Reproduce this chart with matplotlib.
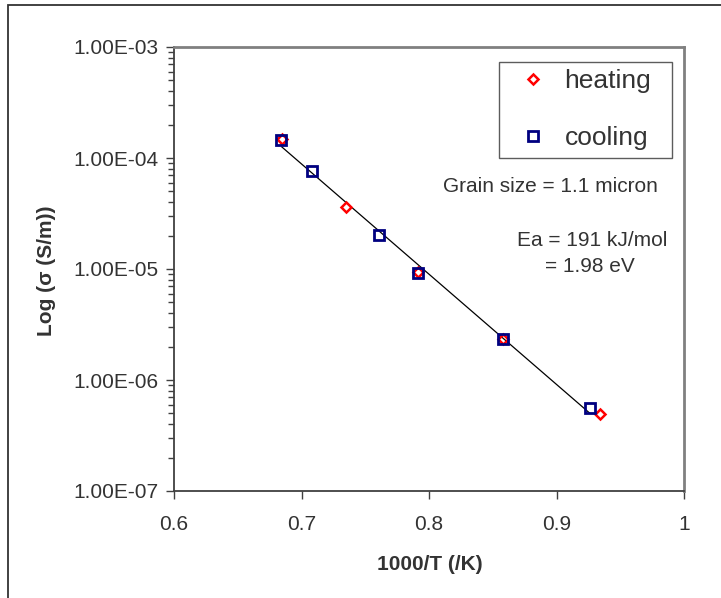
import matplotlib
matplotlib.use("Agg")
import matplotlib.pyplot as plt
from matplotlib.patches import Rectangle
from matplotlib.ticker import FixedLocator, LogLocator, NullFormatter, FuncFormatter

plt.rcParams['font.family'] = ['Liberation Sans', 'DejaVu Sans']

# data
heat_x = [0.685, 0.735, 0.791, 0.858, 0.934]
heat_y = [1.48e-4, 3.64e-5, 9.4e-6, 2.33e-6, 4.9e-7]
cool_x = [0.684, 0.708, 0.761, 0.791, 0.858, 0.926]
cool_y = [1.45e-4, 7.6e-5, 2.02e-5, 9.15e-6, 2.34e-6, 5.6e-7]
# trendline ends
fit_x = [0.6845, 0.9263]
fit_y = [1.26e-4, 5.0e-7]

xticks = [0.6, 0.7, 0.8, 0.9, 1.0]
xticklabels = ["0.6", "0.7", "0.8", "0.9", "1"]

W, H = 721, 598
fig = plt.figure(figsize=(W / 100, H / 100), dpi=100)

# outer frame (cut at right and bottom)
fig.patches.append(Rectangle((7.5 / W, -0.05), 1.2, 1 - 5 / H + 0.05, transform=fig.transFigure,
                             fill=False, edgecolor="#333333", linewidth=1.3))

ax = fig.add_axes([174 / W, 1 - 491 / H, 510 / W, 444 / H])
ax.set_yscale("log")
ax.set_xlim(0.6, 1.0)
ax.set_ylim(1e-7, 1e-3)

ax.plot(fit_x, fit_y, color="black", lw=0.9, zorder=2)
ax.plot(heat_x, heat_y, linestyle="none", marker="D", ms=4.6, mew=1.8,
        mfc="none", mec="#ff0000", label="heating", zorder=3)
ax.plot(cool_x, cool_y, linestyle="none", marker="s", ms=6.6, mew=2.0,
        mfc="none", mec="#000080", label="cooling", zorder=4)

for s in ["left", "bottom"]:
    ax.spines[s].set_color("#404040")
    ax.spines[s].set_linewidth(1.3)
for s in ["top", "right"]:
    ax.spines[s].set_color("#808080")
    ax.spines[s].set_linewidth(2.0)

ax.xaxis.set_major_locator(FixedLocator(xticks))
ax.set_xticklabels(xticklabels)
ax.yaxis.set_major_locator(LogLocator(base=10, numticks=10))
ax.yaxis.set_minor_locator(LogLocator(base=10, subs=range(2, 10), numticks=10))
ax.yaxis.set_minor_formatter(NullFormatter())
ax.yaxis.set_major_formatter(FuncFormatter(lambda v, p: "%.2E" % v))

ax.tick_params(axis="x", direction="out", length=6, width=1, color="#404040",
               labelsize=15, labelcolor="#333333", pad=11)
ax.tick_params(axis="y", which="major", direction="out", length=6, width=1, color="#404040",
               labelsize=15, labelcolor="#333333", pad=5)
ax.tick_params(axis="y", which="minor", direction="out", length=4, width=1, color="#404040")

ax.set_xlabel("1000/T (/K)", fontsize=15, fontweight="bold", color="#333333")
ax.set_ylabel("Log (σ (S/m))", fontsize=15, fontweight="bold", color="#333333")
ax.xaxis.set_label_coords((430 - 174) / 510, (491 - 555) / 444)
ax.yaxis.set_label_coords((56 - 174) / 510, (491 - 271) / 444)

leg = ax.legend(loc="upper left", bbox_to_anchor=(499 / W, 1 - 157 / H, 173 / W, 95 / H),
                mode="expand", bbox_transform=fig.transFigure, fontsize=19, frameon=True,
                fancybox=False, edgecolor="#333333", labelspacing=1.25,
                handlelength=2.0, handletextpad=0.2, borderpad=0.28,
                borderaxespad=0, labelcolor="#333333")
leg.get_frame().set_linewidth(1.0)

fig.text(550 / W, 1 - 187 / H, "Grain size = 1.1 micron", ha="center", va="center",
         fontsize=15, color="#333333")
fig.text(592 / W, 1 - 240 / H, "Ea = 191 kJ/mol", ha="center", va="center",
         fontsize=15, color="#333333")
fig.text(590 / W, 1 - 267 / H, "= 1.98 eV", ha="center", va="center",
         fontsize=15, color="#333333")

fig.savefig("out.png", dpi=100)
